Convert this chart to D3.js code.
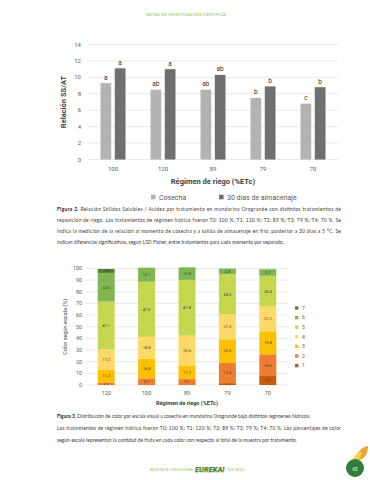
<!DOCTYPE html>
<html>
<head>
<meta charset="utf-8">
<script src="https://cdn.jsdelivr.net/npm/d3@7"></script>
<style>
  body { margin: 0; background: #fff; }
  svg { display: block; }
</style>
</head>
<body>
<script>
// ---- data: figure 2 (SS/AT ratio) ----
const regimes1 = ["100", "120", "89", "79", "70"];
const seriesNames = ["Cosecha", "30 días de almacenaje"];
const cosecha = [9.3, 8.5, 8.5, 7.5, 6.8];
const almacenaje = [11.1, 11.0, 10.3, 8.9, 8.8];
const lettersCosecha = ["a", "ab", "ab", "b", "c"];
const lettersAlmacenaje = ["a", "a", "ab", "b", "b"];
const yTicks1 = [0, 2, 4, 6, 8, 10, 12, 14];

// ---- data: figure 3 (colour scale distribution, %) ----
const regimes2 = ["120", "100", "89", "79", "70"];
const colorClasses = ["1", "2", "3", "4", "5", "6", "7"];
const class1 = [0, 0, 0, 1.6, 7.7];
const class2 = [2.1, 5.7, 5.1, 17.4, 18.6];
const class3 = [11.2, 16.8, 11.7, 20.3, 19.8];
const class4 = [17.2, 18.8, 25.6, 21.3, 21.2];
const class5 = [41.1, 47.3, 47.8, 34.5, 26.4];
const class6 = [24.6, 12.1, 10.8, 4.8, 5.7];
const class7 = [3.4, 0, 0, 0, 0];
const yTicks2 = [0, 10, 20, 30, 40, 50, 60, 70, 80, 90, 100];

const width = 370;
const height = 480;
const chartFont = "Roboto, 'Liberation Sans', sans-serif";
const textFont = "Lato, 'Open Sans', sans-serif";

const svg = d3.select("body").append("svg")
    .attr("width", width)
    .attr("height", height)
    .style("background", "#fff");

// header
svg.append("text")
    .attr("x", 186).attr("y", 15.5)
    .attr("text-anchor", "middle")
    .style("font-family", textFont).style("font-size", "4.2px")
    .style("letter-spacing", "0.1px")
    .attr("fill", "#8dbf4a")
    .text("NOTAS DE INVESTIGACIÓN CIENTÍFICA");

// ================= Figure 2 =================
const c1 = { left: 88, right: 338, top: 44.5, bottom: 159.5 };

const x0 = d3.scaleBand().domain(regimes1).range([c1.left, c1.right]);
const x1 = d3.scaleBand().domain(seriesNames)
    .range([x0.bandwidth() * 0.25, x0.bandwidth() * 0.75])
    .paddingInner(0.25);
const y1 = d3.scaleLinear().domain([0, 14]).range([c1.bottom, c1.top]);
const barColors1 = d3.scaleOrdinal().domain(seriesNames).range(["#b3b3b3", "#6f6f6f"]);

// gridlines + y labels
const g1 = svg.append("g");
g1.selectAll("line")
    .data(yTicks1)
    .join("line")
    .attr("x1", c1.left).attr("x2", c1.right)
    .attr("y1", d => y1(d)).attr("y2", d => y1(d))
    .attr("stroke", "#d9d9d9").attr("stroke-width", 0.6);

g1.selectAll("text")
    .data(yTicks1)
    .join("text")
    .attr("x", c1.left - 7).attr("y", d => y1(d) + 2)
    .attr("text-anchor", "end")
    .style("font-family", chartFont).style("font-size", "6px")
    .attr("fill", "#595959")
    .text(d => d);

// x tick labels
svg.append("g")
    .attr("transform", `translate(0,${c1.bottom})`)
    .call(d3.axisBottom(x0).tickSize(0).tickPadding(7))
    .call(g => g.select(".domain").remove())
    .call(g => g.selectAll("text")
        .style("font-family", chartFont).style("font-size", "6px")
        .attr("fill", "#595959"));

// bars
const rows1 = regimes1.map((r, i) => ({
    regime: r,
    values: [
        { key: seriesNames[0], value: cosecha[i], letter: lettersCosecha[i] },
        { key: seriesNames[1], value: almacenaje[i], letter: lettersAlmacenaje[i] }
    ]
}));

const groups1 = svg.append("g").selectAll("g")
    .data(rows1)
    .join("g")
    .attr("transform", d => `translate(${x0(d.regime)},0)`);

groups1.selectAll("rect")
    .data(d => d.values)
    .join("rect")
    .attr("x", d => x1(d.key))
    .attr("width", x1.bandwidth())
    .attr("y", d => y1(d.value))
    .attr("height", d => y1(0) - y1(d.value))
    .attr("fill", d => barColors1(d.key));

groups1.selectAll("text")
    .data(d => d.values)
    .join("text")
    .attr("x", d => x1(d.key) + x1.bandwidth() / 2)
    .attr("y", d => y1(d.value) - 3.5)
    .attr("text-anchor", "middle")
    .style("font-family", chartFont).style("font-size", "6.5px")
    .attr("fill", "#333")
    .text(d => d.letter);

// axis titles
svg.append("text")
    .attr("transform", `translate(66,${(c1.top + c1.bottom) / 2}) rotate(-90)`)
    .attr("text-anchor", "middle")
    .style("font-family", chartFont).style("font-size", "7.5px").style("font-weight", "bold")
    .attr("fill", "#404040")
    .text("Relación SS/AT");

svg.append("text")
    .attr("x", (c1.left + c1.right) / 2).attr("y", 184)
    .attr("text-anchor", "middle")
    .style("font-family", chartFont).style("font-size", "7.5px").style("font-weight", "bold")
    .attr("fill", "#404040")
    .text("Régimen de riego (%ETc)");

// legend
const legend1X = [151, 219];
const leg1 = svg.append("g").selectAll("g")
    .data(seriesNames)
    .join("g")
    .attr("transform", (d, i) => `translate(${legend1X[i]},197)`);
leg1.append("rect")
    .attr("x", 0).attr("y", -2.3).attr("width", 4.6).attr("height", 4.6)
    .attr("fill", d => barColors1(d));
leg1.append("text")
    .attr("x", 8).attr("y", 2.5)
    .style("font-family", chartFont).style("font-size", "7px")
    .attr("fill", "#595959")
    .text(d => d);

// ================= captions =================
const capLeft = 57;
const capRight = 341;
const capSquash = 0.8; // caption typeface is condensed

function caption(lines, y0, step) {
    lines.forEach((line, i) => {
        const t = svg.append("text")
            .attr("transform", `translate(${capLeft},${y0 + i * step}) scale(${capSquash},1)`)
            .style("font-family", textFont).style("font-size", "6.2px")
            .attr("fill", "#3a3a3a");
        if (line.bold) {
            t.append("tspan").style("font-weight", "bold").attr("fill", "#222").text(line.bold);
        }
        t.append("tspan").text(line.text);
        if (line.justify) {
            t.attr("textLength", (capRight - capLeft) / capSquash).attr("lengthAdjust", "spacing");
        }
    });
}

caption([
    { bold: "Figura 2. ", text: "Relación Sólidos Solubles / Acidez por tratamiento en mandarina Orogrande con distintos tratamientos de", justify: true },
    { text: "reposición de riego. Los tratamientos de régimen hídrico fueron T0: 100 %; T1: 120 %; T2: 89 %; T3: 79 %; T4: 70 %. Se", justify: true },
    { text: "indica la medición de la relación al momento de cosecha y a salida de almacenaje en frío, posterior a 30 días a 5 °C. Se", justify: true },
    { text: "indican diferencias significativas, según LSD Fisher, entre tratamientos para cada momento por separado.", justify: false }
], 210.5, 11);

// ================= Figure 3 =================
const c2 = { left: 86, right: 288, top: 268.5, bottom: 385 };

const x2 = d3.scaleBand().domain(regimes2).range([c2.left, c2.right])
    .paddingInner(0.58).paddingOuter(0.29);
const y2 = d3.scaleLinear().domain([0, 100]).range([c2.bottom, c2.top]);
const classColors = d3.scaleOrdinal().domain(colorClasses)
    .range(["#c55a11", "#ed7d31", "#ffc000", "#ffd966", "#c5d64f", "#7fb850", "#548235"]);

const classValues = [class1, class2, class3, class4, class5, class6, class7];
const table2 = regimes2.map((r, i) => {
    const row = { regime: r };
    colorClasses.forEach((c, k) => { row[c] = classValues[k][i]; });
    return row;
});
const stacked = d3.stack().keys(colorClasses)(table2);

// gridlines + y labels
const g2 = svg.append("g");
g2.selectAll("line")
    .data(yTicks2)
    .join("line")
    .attr("x1", c2.left).attr("x2", c2.right)
    .attr("y1", d => y2(d)).attr("y2", d => y2(d))
    .attr("stroke", "#d9d9d9").attr("stroke-width", 0.6);
g2.selectAll("text")
    .data(yTicks2)
    .join("text")
    .attr("x", c2.left - 4).attr("y", d => y2(d) + 1.9)
    .attr("text-anchor", "end")
    .style("font-family", chartFont).style("font-size", "5.3px")
    .attr("fill", "#595959")
    .text(d => d);

// stacked bars
const layers = svg.append("g").selectAll("g")
    .data(stacked)
    .join("g")
    .attr("fill", d => classColors(d.key));

layers.selectAll("rect")
    .data(d => d)
    .join("rect")
    .attr("x", d => x2(d.data.regime))
    .attr("width", x2.bandwidth())
    .attr("y", d => y2(d[1]))
    .attr("height", d => y2(d[0]) - y2(d[1]));

layers.selectAll("text")
    .data(d => d.filter(s => s[1] - s[0] > 0))
    .join("text")
    .attr("x", d => x2(d.data.regime) + x2.bandwidth() / 2)
    .attr("y", d => y2((d[0] + d[1]) / 2) + 1.4)
    .attr("text-anchor", "middle")
    .style("font-family", chartFont).style("font-size", "4px")
    .attr("fill", "#404040")
    .text(d => d3.format(".1f")(d[1] - d[0]));

// x tick labels
svg.append("g")
    .attr("transform", `translate(0,${c2.bottom})`)
    .call(d3.axisBottom(x2).tickSize(0).tickPadding(6))
    .call(g => g.select(".domain").remove())
    .call(g => g.selectAll("text")
        .style("font-family", chartFont).style("font-size", "5.5px")
        .attr("fill", "#595959"));

// axis titles
svg.append("text")
    .attr("transform", `translate(67,${(c2.top + c2.bottom) / 2}) rotate(-90)`)
    .attr("text-anchor", "middle")
    .style("font-family", chartFont).style("font-size", "5.5px")
    .attr("fill", "#404040")
    .text("Color según escala (%)");

svg.append("text")
    .attr("x", (c2.left + c2.right) / 2).attr("y", 405)
    .attr("text-anchor", "middle")
    .style("font-family", chartFont).style("font-size", "5.5px").style("font-weight", "bold")
    .attr("fill", "#404040")
    .text("Régimen de riego (%ETc)");

// legend (7 at top)
const leg2 = svg.append("g").selectAll("g")
    .data(colorClasses.slice().reverse())
    .join("g")
    .attr("transform", (d, i) => `translate(295,${308 + i * 9.6})`);
leg2.append("rect")
    .attr("x", 0).attr("y", -1.7).attr("width", 3.4).attr("height", 3.4)
    .attr("fill", d => classColors(d));
leg2.append("text")
    .attr("x", 7).attr("y", 1.8)
    .style("font-family", chartFont).style("font-size", "5px")
    .attr("fill", "#595959")
    .text(d => d);

caption([
    { bold: "Figura 3. ", text: "Distribución de color por escala visual a cosecha en mandarina Orogrande bajo distintos regímenes hídricos.", justify: false },
    { text: "Los tratamientos de régimen hídrico fueron T0: 100 %; T1: 120 %; T2: 89 %; T3: 79 %; T4: 70 %. Los porcentajes de color", justify: true },
    { text: "según escala representan la cantidad de fruta en cada color con respecto al total de la muestra por tratamiento.", justify: false }
], 418, 12);

// ================= footer =================
svg.append("text")
    .attr("x", 150).attr("y", 471)
    .style("font-family", textFont).style("font-size", "3.4px")
    .attr("fill", "#8dbf4a")
    .text("REVISTA DE CITRICULTURA");
svg.append("text")
    .attr("x", 195).attr("y", 472)
    .style("font-family", chartFont).style("font-size", "7.5px")
    .style("font-weight", "900").style("font-style", "italic")
    .attr("fill", "#6aa63a").attr("stroke", "#3d6e1e").attr("stroke-width", 0.25)
    .text("EUREKA!");
svg.append("text")
    .attr("x", 227).attr("y", 471)
    .style("font-family", textFont).style("font-size", "4px")
    .attr("fill", "#8dbf4a")
    .text("3(2) 2022");

// page badge
svg.append("path")
    .attr("d", "M356,461 C356,452 362,447 368,446 C368,453 365,460 356,461 Z")
    .attr("fill", "#f0a23a");
svg.append("path")
    .attr("d", "M352,462 C353,456 357,452 362,452 C361,458 358,461 352,462 Z")
    .attr("fill", "#f6d54a");
svg.append("circle")
    .attr("cx", 355).attr("cy", 468).attr("r", 9)
    .attr("fill", "#2f7d3a");
svg.append("text")
    .attr("x", 355).attr("y", 471)
    .attr("text-anchor", "middle")
    .style("font-family", chartFont).style("font-size", "4.5px")
    .attr("fill", "#fff")
    .text("65");
</script>
</body>
</html>
